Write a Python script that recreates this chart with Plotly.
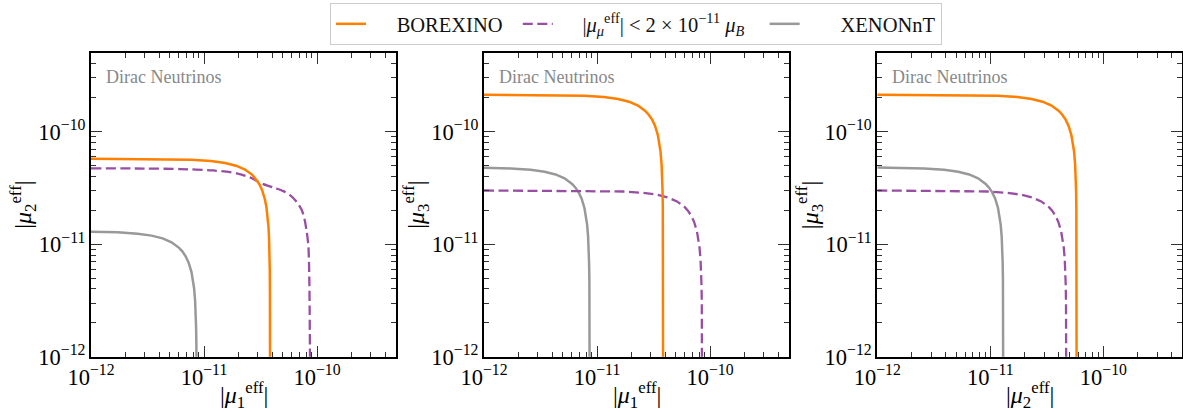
import plotly.graph_objects as go
import math

# ---------------- data ----------------
# Panel 1: |mu1| vs |mu2|
p1_borexino_x = [1.0e-12, 3.84e-12, 7.68e-12, 1.152e-11, 1.536e-11, 1.92e-11, 2.304e-11, 2.688e-11, 2.88e-11, 3.072e-11, 3.264e-11, 3.456e-11, 3.571e-11, 3.648e-11, 3.725e-11, 3.763e-11, 3.802e-11, 3.821e-11, 3.832e-11, 3.836e-11, 3.838e-11, 3.8396e-11]
p1_borexino_y = [5.75e-11, 5.72e-11, 5.63e-11, 5.49e-11, 5.27e-11, 4.98e-11, 4.60e-11, 4.11e-11, 3.80e-11, 3.45e-11, 3.03e-11, 2.51e-11, 2.12e-11, 1.79e-11, 1.40e-11, 1.14e-11, 8.11e-12, 5.74e-12, 3.63e-12, 2.57e-12, 1.82e-12, 8.1e-13]
p1_mumu_x = [1.0e-12, 3.0e-12, 6.14e-12, 1.208e-11, 1.945e-11, 2.55e-11, 2.92e-11, 3.35e-11, 4.10e-11, 5.04e-11, 5.77e-11, 6.61e-11, 7.33e-11, 7.73e-11, 8.11e-11, 8.38e-11, 8.49e-11, 8.55e-11, 8.61e-11, 8.67e-11]
p1_mumu_y = [4.72e-11, 4.70e-11, 4.65e-11, 4.52e-11, 4.26e-11, 3.92e-11, 3.66e-11, 3.42e-11, 3.19e-11, 2.96e-11, 2.73e-11, 2.38e-11, 2.01e-11, 1.69e-11, 1.29e-11, 9.8e-12, 6.98e-12, 4.97e-12, 2.51e-12, 9.0e-13]
p1_xenon_x = [1.0e-12, 1.72e-12, 2.58e-12, 3.44e-12, 4.30e-12, 5.16e-12, 6.02e-12, 6.45e-12, 6.88e-12, 7.31e-12, 7.74e-12, 8.00e-12, 8.17e-12, 8.34e-12, 8.43e-12, 8.51e-12, 8.56e-12, 8.58e-12, 8.59e-12]
p1_xenon_y = [1.291e-11, 1.274e-11, 1.240e-11, 1.191e-11, 1.126e-11, 1.040e-11, 9.28e-12, 8.59e-12, 7.80e-12, 6.85e-12, 5.67e-12, 4.78e-12, 4.06e-12, 3.16e-12, 2.59e-12, 1.83e-12, 1.30e-12, 8.22e-13, 5.81e-13]

# Panel 2: |mu1| vs |mu3|
p2_borexino_x = [1.0e-12, 3.84e-12, 7.68e-12, 1.152e-11, 1.536e-11, 1.92e-11, 2.304e-11, 2.688e-11, 2.88e-11, 3.072e-11, 3.264e-11, 3.456e-11, 3.571e-11, 3.648e-11, 3.725e-11, 3.763e-11, 3.802e-11, 3.821e-11, 3.832e-11, 3.836e-11, 3.838e-11, 3.8396e-11, 3.84e-11]
p2_borexino_y = [2.13e-10, 2.119e-10, 2.087e-10, 2.032e-10, 1.952e-10, 1.845e-10, 1.704e-10, 1.521e-10, 1.408e-10, 1.278e-10, 1.123e-10, 9.29e-11, 7.84e-11, 6.65e-11, 5.18e-11, 4.24e-11, 3.00e-11, 2.13e-11, 1.35e-11, 9.52e-12, 6.73e-12, 3.00e-12, 9.5e-13]
p2_mumu_x = [1.0e-12, 8.5e-12, 1.7e-11, 2.55e-11, 3.4e-11, 4.25e-11, 5.1e-11, 5.95e-11, 6.375e-11, 6.8e-11, 7.225e-11, 7.65e-11, 7.905e-11, 8.075e-11, 8.245e-11, 8.33e-11, 8.415e-11, 8.458e-11, 8.483e-11, 8.492e-11, 8.496e-11, 8.499e-11]
p2_mumu_y = [3.0e-11, 2.985e-11, 2.94e-11, 2.862e-11, 2.75e-11, 2.598e-11, 2.4e-11, 2.142e-11, 1.983e-11, 1.8e-11, 1.581e-11, 1.308e-11, 1.104e-11, 9.36e-12, 7.29e-12, 5.97e-12, 4.23e-12, 3.0e-12, 1.90e-12, 1.34e-12, 9.48e-13, 4.23e-13]
p2_xenon_x = [1.0e-12, 1.72e-12, 2.58e-12, 3.44e-12, 4.30e-12, 5.16e-12, 6.02e-12, 6.45e-12, 6.88e-12, 7.31e-12, 7.74e-12, 8.00e-12, 8.17e-12, 8.34e-12, 8.43e-12, 8.51e-12, 8.56e-12, 8.58e-12, 8.59e-12, 8.596e-12, 8.599e-12]
p2_xenon_y = [4.777e-11, 4.714e-11, 4.589e-11, 4.408e-11, 4.165e-11, 3.848e-11, 3.434e-11, 3.179e-11, 2.886e-11, 2.535e-11, 2.097e-11, 1.770e-11, 1.501e-11, 1.169e-11, 9.57e-12, 6.78e-12, 4.81e-12, 3.04e-12, 2.15e-12, 1.52e-12, 6.78e-13]

# Panel 3: |mu2| vs |mu3|
p3_borexino_x = [1.0e-12, 5.8e-12, 1.16e-11, 1.74e-11, 2.32e-11, 2.9e-11, 3.48e-11, 4.06e-11, 4.35e-11, 4.64e-11, 4.93e-11, 5.22e-11, 5.394e-11, 5.51e-11, 5.626e-11, 5.684e-11, 5.742e-11, 5.771e-11, 5.788e-11, 5.794e-11, 5.797e-11, 5.7994e-11, 5.8e-11]
p3_borexino_y = [2.13e-10, 2.119e-10, 2.087e-10, 2.032e-10, 1.952e-10, 1.845e-10, 1.704e-10, 1.521e-10, 1.408e-10, 1.278e-10, 1.123e-10, 9.29e-11, 7.84e-11, 6.65e-11, 5.18e-11, 4.24e-11, 3.00e-11, 2.13e-11, 1.35e-11, 9.52e-12, 6.73e-12, 3.00e-12, 9.5e-13]
p3_mumu_x = [1.0e-12, 4.7e-12, 9.4e-12, 1.41e-11, 1.88e-11, 2.35e-11, 2.82e-11, 3.29e-11, 3.525e-11, 3.76e-11, 3.995e-11, 4.23e-11, 4.371e-11, 4.465e-11, 4.559e-11, 4.606e-11, 4.653e-11, 4.6765e-11, 4.6906e-11, 4.6953e-11, 4.6977e-11, 4.6995e-11]
p3_mumu_y = [3.0e-11, 2.985e-11, 2.94e-11, 2.862e-11, 2.75e-11, 2.598e-11, 2.4e-11, 2.142e-11, 1.983e-11, 1.8e-11, 1.581e-11, 1.308e-11, 1.104e-11, 9.36e-12, 7.29e-12, 5.97e-12, 4.23e-12, 3.0e-12, 1.90e-12, 1.34e-12, 9.48e-13, 4.23e-13]
p3_xenon_x = [1.0e-12, 1.3e-12, 2.6e-12, 3.9e-12, 5.2e-12, 6.5e-12, 7.8e-12, 9.1e-12, 9.75e-12, 1.04e-11, 1.105e-11, 1.17e-11, 1.209e-11, 1.235e-11, 1.261e-11, 1.274e-11, 1.287e-11, 1.2935e-11, 1.2974e-11, 1.2987e-11, 1.2994e-11, 1.2999e-11]
p3_xenon_y = [4.796e-11, 4.786e-11, 4.714e-11, 4.589e-11, 4.408e-11, 4.165e-11, 3.848e-11, 3.434e-11, 3.179e-11, 2.886e-11, 2.535e-11, 2.097e-11, 1.770e-11, 1.501e-11, 1.169e-11, 9.57e-12, 6.78e-12, 4.81e-12, 3.04e-12, 2.15e-12, 1.52e-12, 6.78e-13]

axis_min = 1e-12
axis_max = 5e-10

series_names = ["BOREXINO",
                "|<i>μ</i><sub><i>μ</i></sub><sup>eff</sup>| &lt; 2 × 10<sup>−11</sup> <i>μ</i><sub><i>B</i></sub>",
                "XENONnT"]
x_titles = ["|<i>μ</i><sub>1</sub><sup>eff</sup>|", "|<i>μ</i><sub>1</sub><sup>eff</sup>|", "|<i>μ</i><sub>2</sub><sup>eff</sup>|"]
y_titles = ["|<i>μ</i><sub>2</sub><sup>eff</sup>|", "|<i>μ</i><sub>3</sub><sup>eff</sup>|", "|<i>μ</i><sub>3</sub><sup>eff</sup>|"]
panel_label = "Dirac Neutrinos"

# ---------------- styling ----------------
W, H = 1183, 412
FONT = "Liberation Serif, Times New Roman, serif"
C_OR = "#ff7f00"
C_PU = "#984ea3"
C_GR = "#999999"
NB = "\u00a0"
THIN = "\u2009"

# legend padding (leading gap after the line sample, trailing gap before next entry)
legend_labels = [NB * 5 + series_names[0] + NB * 2,
                 NB * 4 + THIN + series_names[1] + NB * 3,
                 NB * 7 + series_names[2]]

# axis boxes in pixels (left, right), (top, bottom)
x_px = [(91, 396), (484, 789), (877.3, 1182.3)]
y_px = (53, 356.7)

fig = go.Figure()

panels = [
    (p1_borexino_x, p1_borexino_y, p1_mumu_x, p1_mumu_y, p1_xenon_x, p1_xenon_y),
    (p2_borexino_x, p2_borexino_y, p2_mumu_x, p2_mumu_y, p2_xenon_x, p2_xenon_y),
    (p3_borexino_x, p3_borexino_y, p3_mumu_x, p3_mumu_y, p3_xenon_x, p3_xenon_y),
]

for i, (bx, by, mx, my, gx, gy) in enumerate(panels):
    xa = "x" if i == 0 else f"x{i+1}"
    ya = "y" if i == 0 else f"y{i+1}"
    fig.add_trace(go.Scatter(x=gx, y=gy, mode="lines", name=legend_labels[2],
                             line=dict(color=C_GR, width=2.5), xaxis=xa, yaxis=ya,
                             showlegend=(i == 0), legendrank=3))
    fig.add_trace(go.Scatter(x=mx, y=my, mode="lines", name=legend_labels[1],
                             line=dict(color=C_PU, width=2.3, dash="10px,4.5px",
                                       shape="spline" if i == 0 else "linear", smoothing=0.8),
                             xaxis=xa, yaxis=ya, showlegend=(i == 0), legendrank=2))
    fig.add_trace(go.Scatter(x=bx, y=by, mode="lines", name=legend_labels[0],
                             line=dict(color=C_OR, width=2.5), xaxis=xa, yaxis=ya,
                             showlegend=(i == 0), legendrank=1))

rng = [math.log10(axis_min), math.log10(axis_max)]
ydom = [1 - y_px[1] / H, 1 - y_px[0] / H]

def axis_common():
    return dict(type="log", range=rng, dtick=1, exponentformat="power", showexponent="all",
                showline=True, linecolor="black", linewidth=2, mirror="allticks",
                ticks="inside", ticklen=11, tickwidth=1.3, tickcolor="#333",
                minor=dict(ticks="inside", ticklen=5, tickwidth=1, tickcolor="#333", dtick="D1", showgrid=False),
                showgrid=False, zeroline=False, automargin=False,
                tickfont=dict(family=FONT, size=18, color="black"))

layout = dict(
    width=W, height=H, margin=dict(l=0, r=0, t=0, b=0),
    paper_bgcolor="white", plot_bgcolor="white",
    font=dict(family=FONT, color="black"),
    legend=dict(orientation="h", x=(327 + 945) / 2 / W, xanchor="center",
                y=1 - 3 / H, yanchor="top", bordercolor="#cccccc", borderwidth=1,
                bgcolor="white", font=dict(family=FONT, size=20.5, color="#111"),
                traceorder="normal"),
)
annotations = []
for i in range(3):
    xk = "xaxis" if i == 0 else f"xaxis{i+1}"
    yk = "yaxis" if i == 0 else f"yaxis{i+1}"
    ya_name = "y" if i == 0 else f"y{i+1}"
    xa_name = "x" if i == 0 else f"x{i+1}"
    xd = [x_px[i][0] / W, x_px[i][1] / W]
    ax = axis_common(); ax.update(domain=xd, anchor=ya_name)
    ay = axis_common(); ay.update(domain=ydom, anchor=xa_name)
    layout[xk] = ax
    layout[yk] = ay
    cx = (x_px[i][0] + x_px[i][1]) / 2 / W
    annotations.append(dict(text=x_titles[i], x=cx, y=1 - 395 / H, xref="paper", yref="paper",
                            showarrow=False, xanchor="center", yanchor="middle",
                            font=dict(family=FONT, size=24, color="black")))
    annotations.append(dict(text=y_titles[i], x=(x_px[i][0] - 68) / W, y=(ydom[0] + ydom[1]) / 2,
                            xref="paper", yref="paper", textangle=-90,
                            showarrow=False, xanchor="center", yanchor="middle",
                            font=dict(family=FONT, size=24, color="black")))
    annotations.append(dict(text=panel_label, x=(x_px[i][0] + 12.5) / W, y=1 - 77 / H,
                            xref="paper", yref="paper", showarrow=False,
                            xanchor="left", yanchor="middle",
                            font=dict(family=FONT, size=18, color="#888888")))
layout["annotations"] = annotations
fig.update_layout(**layout)

fig.write_html("out.html", config={"displayModeBar": False},
               post_script="document.body.style.margin='0px';document.body.style.overflow='hidden';")
